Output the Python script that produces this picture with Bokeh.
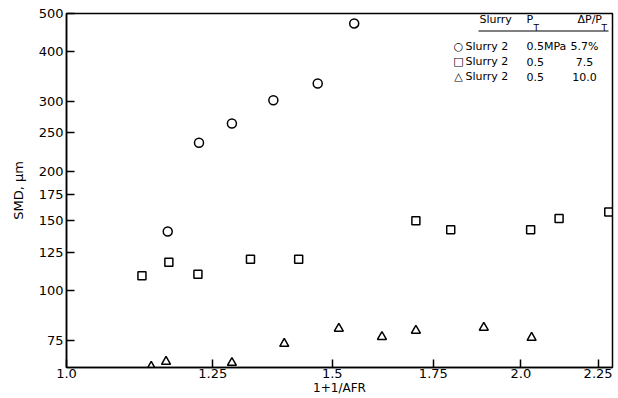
import math
from bokeh.plotting import figure
from bokeh.models import Range1d, FixedTicker, Label, BoxAnnotation
from bokeh.embed import file_html
from bokeh.resources import INLINE

# ---- data ----
circle_x = [1.167, 1.224, 1.287, 1.371, 1.467, 1.551]
circle_y = [141, 236, 264, 302, 333, 472]

square_x = [1.122, 1.169, 1.222, 1.324, 1.425, 1.704, 1.797, 2.030, 2.120, 2.287]
square_y = [109, 118, 110, 120, 120, 150, 142.5, 142.5, 152, 158]

triangle_x = [1.138, 1.164, 1.287, 1.394, 1.515, 1.618, 1.704, 1.890, 2.033]
triangle_y = [64.3, 66.2, 65.8, 73.5, 80.2, 76.5, 79.3, 80.7, 76.1]

x_ticks = [1.0, 1.25, 1.5, 1.75, 2.0, 2.25]
x_tick_labels = ["1.0", "1.25", "1.5", "1.75", "2.0", "2.25"]
y_ticks = [75, 100, 125, 150, 175, 200, 250, 300, 400, 500]
y_tick_labels = ["75", "100", "125", "150", "175", "200", "250", "300", "400", "500"]

x_label = "1+1/AFR"
y_label = "SMD, \u03bcm"

legend_symbols = ["\u25cb", "\u25a1", "\u25b3"]
legend_slurry = ["Slurry 2", "Slurry 2", "Slurry 2"]
legend_pt = ["0.5MPa", "0.5", "0.5"]
legend_dp = ["5.7%", "7.5", "10.0"]

# ---- figure ----
FL, FB = 66, 367  # frame left / bottom in page pixels

p = figure(width=618, height=398, x_axis_type="log", y_axis_type="log",
           x_range=Range1d(1.0, 2.3), y_range=Range1d(64, 500),
           output_backend="svg", toolbar_location=None,
           min_border_left=FL, min_border_right=6, min_border_top=13,
           min_border_bottom=31)
p.background_fill_color = "white"
p.border_fill_color = "white"
p.outline_line_color = "black"
p.outline_line_width = 1.5
p.grid.visible = False

for ax in (p.xaxis[0], p.yaxis[0]):
    ax.axis_line_width = 1.5
    ax.axis_line_color = "black"
    ax.major_tick_line_width = 1.5
    ax.major_tick_line_color = "black"
    ax.major_tick_in = 8
    ax.major_tick_out = 0
    ax.minor_tick_in = 0
    ax.minor_tick_out = 0
    ax.major_label_text_font = "DejaVu Sans"
    ax.major_label_text_font_size = "13px"
    ax.major_label_text_color = "black"
    ax.axis_label_text_font = "DejaVu Sans"
    ax.axis_label_text_font_style = "normal"
    ax.axis_label_text_color = "black"

p.xaxis[0].ticker = FixedTicker(ticks=x_ticks, minor_ticks=[])
p.xaxis[0].major_label_overrides = dict(zip(x_ticks, x_tick_labels))
p.xaxis[0].major_label_standoff = 1
p.xaxis[0].axis_label = x_label
p.xaxis[0].axis_label_text_font_size = "12px"
p.xaxis[0].axis_label_standoff = 0

p.yaxis[0].ticker = FixedTicker(ticks=y_ticks, minor_ticks=[])
p.yaxis[0].major_label_overrides = dict(zip(y_ticks, y_tick_labels))
p.yaxis[0].major_label_standoff = 3
p.yaxis[0].axis_label = y_label
p.yaxis[0].axis_label_text_font_size = "13px"
p.yaxis[0].axis_label_standoff = 10

p.scatter(circle_x, circle_y, marker="circle", size=9, fill_color=None,
          line_color="black", line_width=1.5)
p.scatter(square_x, square_y, marker="square", size=8, fill_color=None,
          line_color="black", line_width=1.5)
p.scatter(triangle_x, triangle_y, marker="triangle", size=9, fill_color=None,
          line_color="black", line_width=1.5)


def lab(px, py, text, size="11px", align="left"):
    p.add_layout(Label(x=px - FL, y=FB - py, x_units="screen", y_units="screen",
                       text=text, text_font="DejaVu Sans", text_font_size=size,
                       text_color="black", text_align=align,
                       text_baseline="middle"))


# legend table header
lab(479, 19, "Slurry")
lab(526, 19, "P")
lab(533, 27, "T", size="9px")
lab(577, 19, "\u0394P/P")
lab(601, 27, "T", size="9px")
p.add_layout(BoxAnnotation(left=478 - FL, right=608 - FL, bottom=FB - 31, top=FB - 30,
                           left_units="screen", right_units="screen",
                           bottom_units="screen", top_units="screen",
                           fill_color="black", fill_alpha=1.0, line_alpha=0))

row_y = [46, 61, 76]
for i in range(3):
    lab(458, row_y[i], legend_symbols[i], size="11px", align="center")
    lab(465, row_y[i], legend_slurry[i])
    lab(526, row_y[i], legend_pt[i])
    lab(584, row_y[i], legend_dp[i], align="center")

open("out.html", "w").write(file_html(p, INLINE))
